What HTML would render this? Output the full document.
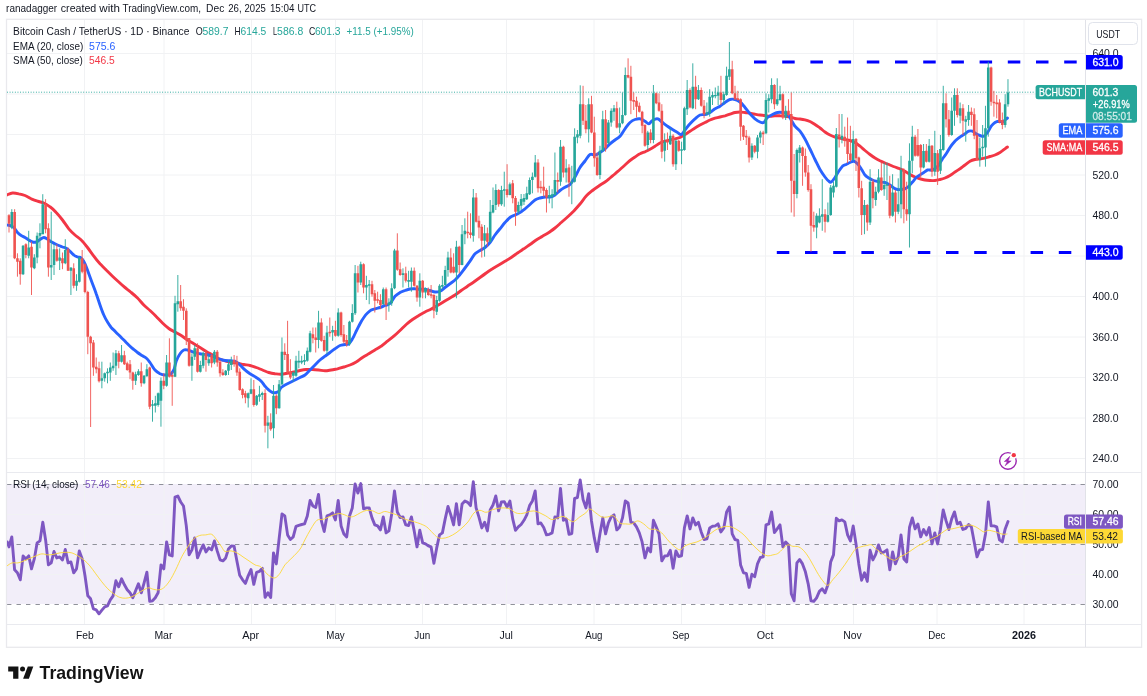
<!DOCTYPE html>
<html lang="en">
<head>
<meta charset="utf-8">
<title>BCHUSDT chart</title>
<style>
html,body{margin:0;padding:0;background:#fff;}
body{width:1147px;height:696px;overflow:hidden;}
svg{display:block;}
text{font-family:"Liberation Sans",sans-serif;}
.ax{font-size:11px;}
.lg{font-size:11px;}
.w{fill:#fff;}
</style>
</head>
<body>
<svg width="1147" height="696" viewBox="0 0 1147 696">
<defs><clipPath id="cp"><rect x="7" y="20" width="1078" height="604"/></clipPath></defs>
<rect width="1147" height="696" fill="#fff"/>
<!-- header -->

<!-- RSI band -->
<rect x="7" y="484" width="1078" height="120" fill="#7e57c2" fill-opacity="0.1"/>

<!-- grid -->
<g stroke="#f1f2f4" stroke-width="1" fill="none">
<path d="M7 53.5H1085M7 94H1085M7 134.5H1085M7 175H1085M7 215.5H1085M7 256H1085M7 296.5H1085M7 337H1085M7 377.5H1085M7 418H1085M7 458.5H1085"/>
<path d="M7 514.5H1085M7 574.5H1085"/>
<path d="M84.5 20V624M164 20V624M251.5 20V624M335.5 20V624M422.5 20V624M506.5 20V624M594 20V624M681.5 20V624M765.5 20V624M853.5 20V624M937 20V624M1024 20V624"/>
</g>
<!-- RSI dashed levels -->
<path d="M7 484.5H1085M7 544.5H1085M7 604.5H1085" stroke="#83868f" stroke-width="0.9" stroke-dasharray="4.4 5.1" fill="none"/>

<!-- frame -->
<rect x="6.5" y="19.3" width="1135.1" height="628" fill="none" stroke="#e9e9ed" stroke-width="1.3"/>
<path d="M7 472.5H1141.5M7 624.5H1141.5" stroke="#e9eaef" stroke-width="1" fill="none"/>
<path d="M1085.5 20V647" stroke="#e1e2e8" stroke-width="1" fill="none"/>

<!-- price dotted line -->
<path d="M7 92.2H1035" stroke="#26a69a" stroke-width="1" stroke-dasharray="0.9 1.73" fill="none"/>

<!-- horizontal levels -->
<path d="M754 62H1080" stroke="#0000ff" stroke-width="3" stroke-dasharray="12.5 15.7" fill="none"/>
<path d="M776.8 252.5H1080" stroke="#0000ff" stroke-width="3" stroke-dasharray="12.5 15.7" fill="none"/>

<!-- MAs -->
<path clip-path="url(#cp)" d="M6.8 195.0C7.7 194.7 10.5 193.2 12.5 193.0C14.5 192.8 16.7 193.3 18.8 193.8C20.8 194.2 22.9 194.7 25.0 195.5C27.1 196.3 29.2 197.8 31.2 198.8C33.3 199.7 35.4 200.5 37.5 201.2C39.6 202.0 41.7 202.1 43.8 203.0C45.8 203.9 47.9 205.2 50.0 206.8C52.1 208.3 54.2 210.3 56.2 212.5C58.3 214.7 60.4 217.3 62.5 220.0C64.6 222.7 66.7 226.2 68.8 228.8C70.8 231.2 72.9 233.1 75.0 235.0C77.1 236.9 79.2 237.9 81.2 240.0C83.3 242.1 85.4 244.8 87.5 247.5C89.6 250.2 91.7 253.5 93.8 256.2C95.8 259.0 97.9 261.5 100.0 263.8C102.1 266.0 104.2 267.9 106.2 270.0C108.3 272.1 110.4 274.2 112.5 276.2C114.6 278.2 116.7 280.1 118.8 282.0C120.8 283.9 122.9 285.8 125.0 287.5C127.1 289.2 129.2 290.8 131.2 292.5C133.3 294.2 135.4 295.9 137.5 298.0C139.6 300.1 141.7 302.9 143.8 305.0C145.8 307.1 147.9 308.6 150.0 310.5C152.1 312.4 154.2 314.4 156.2 316.5C158.3 318.6 160.4 321.0 162.5 323.0C164.6 325.0 166.7 327.0 168.8 328.5C170.8 330.0 172.9 330.8 175.0 332.0C177.1 333.2 179.2 334.2 181.2 335.5C183.3 336.8 185.4 338.6 187.5 340.0C189.6 341.4 191.7 342.5 193.8 343.8C195.8 345.0 197.9 346.2 200.0 347.5C202.1 348.8 204.2 350.2 206.2 351.5C208.3 352.8 210.4 353.8 212.5 355.0C214.6 356.2 216.7 357.8 218.8 358.8C220.8 359.7 222.9 360.1 225.0 360.8C227.1 361.4 229.2 362.1 231.2 362.5C233.3 362.9 235.4 362.9 237.5 363.2C239.6 363.6 241.7 364.1 243.8 364.5C245.8 364.9 247.9 365.0 250.0 365.5C252.1 366.0 254.2 366.8 256.2 367.5C258.3 368.2 260.4 369.2 262.5 370.0C264.6 370.8 266.7 371.9 268.8 372.5C270.8 373.1 272.9 373.5 275.0 373.8C277.1 374.0 279.2 374.3 281.2 374.2C283.3 374.2 285.4 373.6 287.5 373.2C289.6 372.9 291.7 372.5 293.8 372.0C295.8 371.5 297.9 370.9 300.0 370.5C302.1 370.1 304.2 369.7 306.2 369.5C308.3 369.3 310.4 369.4 312.5 369.5C314.6 369.6 316.7 369.8 318.8 370.0C320.8 370.2 322.9 370.8 325.0 370.8C327.1 370.8 329.2 370.3 331.2 370.0C333.3 369.7 335.4 369.2 337.5 368.8C339.6 368.2 341.7 367.6 343.8 367.0C345.8 366.4 347.9 365.8 350.0 365.0C352.1 364.2 354.2 363.2 356.2 362.0C358.3 360.8 360.4 358.9 362.5 357.5C364.6 356.1 366.7 355.0 368.8 353.8C370.8 352.5 372.9 351.2 375.0 350.0C377.1 348.8 379.2 347.7 381.2 346.2C383.3 344.8 385.4 342.9 387.5 341.2C389.6 339.6 391.7 338.0 393.8 336.2C395.8 334.5 397.9 332.5 400.0 330.5C402.1 328.5 404.2 326.3 406.2 324.5C408.3 322.7 410.4 321.0 412.5 319.5C414.6 318.0 416.7 316.8 418.8 315.5C420.8 314.2 422.9 313.1 425.0 312.0C427.1 310.9 429.4 310.0 431.2 309.0C433.1 308.0 434.4 307.3 436.2 306.2C438.1 305.2 440.4 303.8 442.5 302.5C444.6 301.2 446.7 300.0 448.8 298.8C450.8 297.5 452.9 296.4 455.0 295.0C457.1 293.6 459.2 292.0 461.2 290.5C463.3 289.0 465.4 287.7 467.5 286.2C469.6 284.8 471.7 283.5 473.8 282.0C475.8 280.5 477.9 279.0 480.0 277.5C482.1 276.0 484.2 274.5 486.2 273.0C488.3 271.5 490.4 270.1 492.5 268.8C494.6 267.4 496.7 266.2 498.8 265.0C500.8 263.8 502.9 262.5 505.0 261.2C507.1 260.0 509.2 258.9 511.2 257.5C513.3 256.1 515.4 254.5 517.5 253.0C519.6 251.5 521.7 250.2 523.8 248.8C525.8 247.3 527.9 246.0 530.0 244.5C532.1 243.0 534.2 241.4 536.2 240.0C538.3 238.6 540.4 237.5 542.5 236.2C544.6 235.0 546.7 233.9 548.8 232.5C550.8 231.1 552.9 229.7 555.0 228.0C557.1 226.3 559.2 224.3 561.2 222.5C563.3 220.7 565.4 218.9 567.5 217.0C569.6 215.1 571.7 213.2 573.8 211.0C575.8 208.8 577.9 206.5 580.0 204.0C582.1 201.5 584.2 198.2 586.2 196.0C588.3 193.8 590.4 192.2 592.5 190.5C594.6 188.8 596.7 187.4 598.8 186.0C600.8 184.6 603.1 183.3 605.0 182.0C606.9 180.7 608.3 179.4 610.0 178.0C611.7 176.6 613.3 175.2 615.0 173.8C616.7 172.3 618.3 171.0 620.0 169.5C621.7 168.0 623.3 166.5 625.0 165.0C626.7 163.5 628.3 161.8 630.0 160.5C631.7 159.2 633.3 158.1 635.0 157.0C636.7 155.9 638.3 154.6 640.0 153.8C641.7 152.9 643.3 152.5 645.0 151.8C646.7 151.0 648.3 150.2 650.0 149.2C651.7 148.3 653.3 147.3 655.0 146.2C656.7 145.2 658.3 143.8 660.0 143.0C661.7 142.2 663.3 141.8 665.0 141.2C666.7 140.8 668.3 140.4 670.0 140.0C671.7 139.6 673.3 139.2 675.0 138.8C676.7 138.3 678.3 138.2 680.0 137.5C681.7 136.8 683.3 135.5 685.0 134.5C686.7 133.5 688.3 132.3 690.0 131.2C691.7 130.2 693.3 129.0 695.0 128.0C696.7 127.0 698.3 125.9 700.0 125.0C701.7 124.1 703.3 123.3 705.0 122.5C706.7 121.7 708.3 120.7 710.0 120.0C711.7 119.3 713.3 118.8 715.0 118.2C716.7 117.8 718.3 117.4 720.0 117.0C721.7 116.6 723.3 116.2 725.0 115.8C726.7 115.3 728.3 114.8 730.0 114.2C731.7 113.7 733.3 112.9 735.0 112.5C736.7 112.1 738.3 112.0 740.0 112.0C741.7 112.0 743.3 112.3 745.0 112.5C746.7 112.7 748.3 113.0 750.0 113.2C751.7 113.5 753.3 114.0 755.0 114.2C756.7 114.5 758.3 114.8 760.0 115.0C761.7 115.2 763.3 115.3 765.0 115.5C766.7 115.7 768.3 116.2 770.0 116.2C771.7 116.3 773.3 115.8 775.0 115.8C776.7 115.7 778.3 115.7 780.0 115.8C781.7 115.8 783.3 116.0 785.0 116.2C786.7 116.5 788.3 116.6 790.0 117.0C791.7 117.4 793.3 118.2 795.0 118.5C796.7 118.8 798.3 118.8 800.0 119.0C801.7 119.2 803.3 119.4 805.0 119.8C806.7 120.2 808.3 120.7 810.0 121.5C811.7 122.3 813.3 123.4 815.0 124.5C816.7 125.6 818.3 126.8 820.0 128.0C821.7 129.2 823.3 130.8 825.0 132.0C826.7 133.2 828.3 134.2 830.0 135.0C831.7 135.8 833.3 136.5 835.0 137.0C836.7 137.5 838.3 137.8 840.0 138.2C841.7 138.7 843.3 139.1 845.0 139.5C846.7 139.9 848.3 140.0 850.0 140.5C851.7 141.0 853.3 141.5 855.0 142.5C856.7 143.5 858.3 144.9 860.0 146.2C861.7 147.6 863.3 149.1 865.0 150.5C866.7 151.9 868.3 153.2 870.0 154.5C871.7 155.8 873.3 157.0 875.0 158.0C876.7 159.0 878.3 159.9 880.0 160.8C881.7 161.6 883.3 162.3 885.0 163.0C886.7 163.7 888.3 164.3 890.0 165.0C891.7 165.7 893.3 166.4 895.0 167.0C896.7 167.6 898.3 168.0 900.0 168.8C901.7 169.5 903.3 170.3 905.0 171.2C906.7 172.2 908.3 173.5 910.0 174.5C911.7 175.5 913.3 176.3 915.0 177.0C916.7 177.7 918.3 178.2 920.0 178.8C921.7 179.2 923.3 179.7 925.0 180.0C926.7 180.3 928.3 180.4 930.0 180.5C931.7 180.6 933.3 180.7 935.0 180.5C936.7 180.3 938.3 179.9 940.0 179.5C941.7 179.1 943.3 178.7 945.0 178.0C946.7 177.3 948.3 176.5 950.0 175.5C951.7 174.5 953.3 173.1 955.0 172.0C956.7 170.9 958.3 169.9 960.0 168.8C961.7 167.6 963.3 166.2 965.0 165.0C966.7 163.8 968.3 162.2 970.0 161.2C971.7 160.3 973.3 159.9 975.0 159.5C976.7 159.1 978.3 159.2 980.0 159.0C981.7 158.8 983.3 158.4 985.0 158.0C986.7 157.6 988.3 157.0 990.0 156.5C991.7 156.0 993.3 155.7 995.0 155.0C996.7 154.3 998.3 153.5 1000.0 152.5C1001.7 151.5 1003.8 149.7 1005.0 148.8C1006.2 147.8 1007.1 147.3 1007.5 147.0" stroke="#f23645" stroke-width="2.9" fill="none" stroke-linejoin="round" stroke-linecap="round"/>
<path clip-path="url(#cp)" d="M6.8 225.0C7.3 225.1 8.8 225.1 10.0 225.5C11.2 225.9 12.5 226.3 13.8 227.5C15.0 228.7 16.2 231.2 17.5 232.5C18.8 233.8 20.0 234.7 21.2 235.5C22.5 236.3 23.8 236.8 25.0 237.5C26.2 238.2 27.5 239.2 28.8 240.0C30.0 240.8 31.2 241.7 32.5 242.0C33.8 242.3 35.0 242.4 36.2 242.0C37.5 241.6 38.8 240.2 40.0 239.5C41.2 238.8 42.5 237.5 43.8 237.5C45.0 237.5 46.2 238.5 47.5 239.2C48.8 240.0 50.0 241.0 51.2 241.8C52.5 242.5 53.8 243.1 55.0 243.8C56.2 244.4 57.5 245.0 58.8 245.5C60.0 246.0 61.2 246.5 62.5 247.0C63.8 247.5 65.0 247.5 66.2 248.2C67.5 249.0 68.8 250.1 70.0 251.2C71.2 252.4 72.5 254.0 73.8 255.0C75.0 256.0 76.2 256.5 77.5 257.0C78.8 257.5 80.0 256.9 81.2 258.0C82.5 259.1 83.8 261.1 85.0 263.8C86.2 266.4 87.5 270.4 88.8 273.8C90.0 277.1 91.2 280.4 92.5 283.8C93.8 287.1 95.0 290.2 96.2 293.8C97.5 297.3 98.8 301.5 100.0 305.0C101.2 308.5 102.5 312.2 103.8 315.0C105.0 317.8 106.2 319.9 107.5 322.0C108.8 324.1 110.0 326.0 111.2 327.5C112.5 329.0 113.8 330.0 115.0 331.2C116.2 332.5 117.5 333.8 118.8 335.0C120.0 336.2 121.2 337.5 122.5 338.8C123.8 340.0 125.0 341.2 126.2 342.5C127.5 343.8 128.8 345.1 130.0 346.2C131.2 347.4 132.5 348.5 133.8 349.5C135.0 350.5 136.0 351.4 137.5 352.5C139.0 353.6 141.0 354.8 142.5 355.8C144.0 356.8 145.4 357.4 146.7 358.5C147.9 359.6 148.6 360.6 150.0 362.5C151.4 364.4 153.3 368.1 155.0 370.0C156.7 371.9 158.3 372.9 160.0 373.8C161.7 374.6 163.3 374.9 165.0 375.0C166.7 375.1 168.5 375.3 170.0 374.5C171.5 373.7 172.7 372.2 173.8 370.0C174.8 367.8 175.2 364.0 176.2 361.2C177.3 358.5 178.8 355.6 180.0 353.8C181.2 351.9 182.5 350.6 183.8 350.0C185.0 349.4 186.2 349.8 187.5 350.0C188.8 350.2 190.0 350.8 191.2 351.2C192.5 351.7 193.5 352.1 195.0 352.5C196.5 352.9 198.1 353.4 200.0 353.8C201.9 354.1 204.2 354.1 206.2 354.5C208.3 354.9 210.4 355.5 212.5 356.2C214.6 357.0 216.7 358.0 218.8 358.8C220.8 359.5 222.9 360.2 225.0 360.5C227.1 360.8 229.6 360.6 231.2 360.8C232.9 360.9 233.8 360.8 235.0 361.2C236.2 361.8 237.3 362.5 238.8 363.8C240.2 365.0 241.9 367.1 243.8 368.8C245.6 370.4 247.9 372.3 250.0 373.8C252.1 375.2 254.4 376.2 256.2 377.5C258.1 378.8 259.8 379.8 261.2 381.2C262.7 382.7 263.8 384.8 265.0 386.2C266.2 387.7 267.5 389.0 268.8 390.0C270.0 391.0 271.2 392.1 272.5 392.5C273.8 392.9 275.2 392.7 276.2 392.5C277.3 392.3 277.9 392.1 278.8 391.2C279.6 390.4 280.2 388.5 281.2 387.5C282.3 386.5 283.5 385.8 285.0 385.0C286.5 384.2 288.3 383.3 290.0 382.5C291.7 381.7 293.3 380.8 295.0 380.0C296.7 379.2 298.3 378.3 300.0 377.5C301.7 376.7 303.3 376.2 305.0 375.0C306.7 373.8 308.3 371.7 310.0 370.0C311.7 368.3 313.3 366.7 315.0 365.0C316.7 363.3 318.3 361.5 320.0 360.0C321.7 358.5 323.3 357.5 325.0 356.2C326.7 355.0 328.3 353.8 330.0 352.5C331.7 351.2 333.3 349.9 335.0 348.8C336.7 347.6 338.3 346.2 340.0 345.5C341.7 344.8 343.5 344.8 345.0 344.5C346.5 344.2 347.5 344.7 348.8 343.8C350.0 342.8 351.2 340.8 352.5 338.8C353.8 336.7 355.0 333.8 356.2 331.2C357.5 328.8 358.8 326.0 360.0 323.8C361.2 321.5 362.5 319.3 363.8 317.5C365.0 315.7 366.2 314.2 367.5 313.0C368.8 311.8 370.0 310.7 371.2 310.0C372.5 309.3 373.5 309.2 375.0 308.8C376.5 308.3 378.3 308.0 380.0 307.5C381.7 307.0 383.3 306.2 385.0 305.5C386.7 304.8 388.3 305.0 390.0 303.5C391.7 302.0 393.3 298.1 395.0 296.2C396.7 294.4 398.3 293.5 400.0 292.5C401.7 291.5 403.3 291.1 405.0 290.5C406.7 289.9 408.3 289.3 410.0 289.0C411.7 288.7 413.3 288.7 415.0 288.8C416.7 288.8 418.3 289.2 420.0 289.2C421.7 289.3 423.3 289.0 425.0 289.2C426.7 289.5 428.3 290.0 430.0 290.5C431.7 291.0 433.3 291.9 435.0 292.0C436.7 292.1 438.3 292.0 440.0 291.2C441.7 290.5 443.3 288.8 445.0 287.5C446.7 286.2 448.3 285.0 450.0 283.8C451.7 282.5 453.3 281.5 455.0 280.0C456.7 278.5 458.3 276.5 460.0 274.5C461.7 272.5 463.3 270.2 465.0 268.0C466.7 265.8 468.3 263.6 470.0 261.2C471.7 258.9 473.3 255.5 475.0 253.8C476.7 252.0 478.3 251.5 480.0 250.5C481.7 249.5 483.3 248.8 485.0 247.5C486.7 246.2 488.3 244.6 490.0 242.5C491.7 240.4 493.3 237.3 495.0 235.0C496.7 232.7 498.3 230.8 500.0 228.8C501.7 226.7 503.3 224.4 505.0 222.5C506.7 220.6 508.3 218.8 510.0 217.5C511.7 216.2 513.3 215.8 515.0 215.0C516.7 214.2 518.3 213.5 520.0 212.5C521.7 211.5 523.3 210.1 525.0 208.8C526.7 207.4 528.3 206.0 530.0 204.5C531.7 203.0 533.3 201.1 535.0 200.0C536.7 198.9 538.3 198.5 540.0 198.0C541.7 197.5 543.3 197.2 545.0 197.0C546.7 196.8 548.3 197.3 550.0 197.0C551.7 196.7 553.3 196.1 555.0 195.0C556.7 193.9 558.3 191.8 560.0 190.5C561.7 189.2 563.3 188.3 565.0 187.3C566.7 186.3 568.3 186.2 570.0 184.5C571.7 182.8 573.3 179.8 575.0 177.0C576.7 174.2 578.3 170.2 580.0 167.5C581.7 164.8 583.3 163.2 585.0 161.0C586.7 158.8 588.3 155.5 590.0 154.5C591.7 153.5 593.3 155.3 595.0 155.0C596.7 154.7 598.3 153.5 600.0 152.5C601.7 151.5 603.3 150.2 605.0 148.8C606.7 147.3 608.3 145.2 610.0 143.8C611.7 142.3 613.3 141.2 615.0 140.0C616.7 138.8 618.3 138.1 620.0 136.2C621.7 134.4 623.3 131.0 625.0 128.8C626.7 126.5 628.3 124.0 630.0 122.5C631.7 121.0 633.3 120.1 635.0 119.5C636.7 118.9 638.3 118.5 640.0 118.8C641.7 119.0 643.5 120.4 645.0 121.2C646.5 122.1 647.5 123.9 648.8 123.8C650.0 123.6 651.0 121.3 652.5 120.5C654.0 119.7 655.8 118.4 657.5 118.8C659.2 119.1 660.8 121.2 662.5 122.5C664.2 123.8 665.8 125.1 667.5 126.2C669.2 127.4 670.8 128.5 672.5 129.5C674.2 130.5 676.0 131.7 677.5 132.5C679.0 133.3 680.0 134.9 681.2 134.5C682.5 134.1 683.5 131.8 685.0 130.0C686.5 128.2 688.3 125.6 690.0 123.8C691.7 121.9 693.3 120.2 695.0 118.8C696.7 117.3 698.3 115.7 700.0 115.0C701.7 114.3 703.3 114.9 705.0 114.5C706.7 114.1 708.3 113.5 710.0 112.5C711.7 111.5 713.3 109.8 715.0 108.8C716.7 107.7 718.3 107.3 720.0 106.2C721.7 105.2 723.3 103.6 725.0 102.5C726.7 101.4 728.3 100.0 730.0 99.5C731.7 99.0 733.3 99.1 735.0 99.5C736.7 99.9 738.3 100.7 740.0 102.0C741.7 103.3 743.3 105.5 745.0 107.5C746.7 109.5 748.3 111.9 750.0 113.8C751.7 115.6 753.3 117.4 755.0 118.8C756.7 120.1 758.5 121.4 760.0 122.0C761.5 122.6 762.5 123.2 763.8 122.5C765.0 121.8 766.0 118.8 767.5 117.5C769.0 116.2 770.8 115.3 772.5 114.5C774.2 113.7 775.8 112.8 777.5 112.5C779.2 112.2 780.8 112.3 782.5 112.5C784.2 112.7 786.0 112.5 787.5 113.8C789.0 115.0 790.0 117.9 791.2 120.0C792.5 122.1 793.5 124.4 795.0 126.2C796.5 128.1 798.3 129.1 800.0 131.2C801.7 133.4 803.3 136.0 805.0 139.0C806.7 142.0 808.3 145.6 810.0 149.0C811.7 152.4 813.3 156.1 815.0 159.5C816.7 162.9 818.3 166.6 820.0 169.5C821.7 172.4 823.5 175.0 825.0 177.0C826.5 179.0 827.7 180.4 828.8 181.2C829.8 182.1 830.2 182.6 831.2 182.0C832.3 181.4 833.8 179.3 835.0 177.5C836.2 175.7 837.5 173.1 838.8 171.2C840.0 169.4 841.2 167.4 842.5 166.2C843.8 165.1 845.0 165.1 846.2 164.5C847.5 163.9 848.8 163.0 850.0 162.5C851.2 162.0 852.5 161.0 853.8 161.2C855.0 161.5 856.2 162.5 857.5 163.8C858.8 165.0 860.0 166.9 861.2 168.8C862.5 170.6 863.8 173.5 865.0 175.0C866.2 176.5 867.5 177.2 868.8 178.0C870.0 178.8 871.2 179.5 872.5 180.0C873.8 180.5 875.0 180.9 876.2 181.2C877.5 181.6 878.5 181.8 880.0 182.0C881.5 182.2 883.3 182.0 885.0 182.5C886.7 183.0 888.5 184.1 890.0 185.0C891.5 185.9 892.5 187.2 893.8 188.0C895.0 188.8 896.2 189.2 897.5 189.5C898.8 189.8 900.0 189.6 901.2 189.5C902.5 189.4 903.8 189.3 905.0 188.8C906.2 188.2 907.5 187.4 908.8 186.2C910.0 185.1 911.2 183.5 912.5 182.0C913.8 180.5 915.0 178.7 916.2 177.5C917.5 176.3 918.8 175.8 920.0 175.0C921.2 174.2 922.5 173.3 923.8 172.5C925.0 171.7 926.2 170.4 927.5 170.0C928.8 169.6 930.0 170.2 931.2 170.0C932.5 169.8 933.8 169.6 935.0 168.8C936.2 167.9 937.5 166.7 938.8 165.0C940.0 163.3 941.2 160.6 942.5 158.8C943.8 156.9 945.0 155.6 946.2 153.8C947.5 151.9 948.8 149.4 950.0 147.5C951.2 145.6 952.5 144.0 953.8 142.5C955.0 141.0 956.2 139.8 957.5 138.8C958.8 137.7 960.0 137.1 961.2 136.2C962.5 135.4 963.8 134.6 965.0 133.8C966.2 132.9 967.5 131.7 968.8 131.2C970.0 130.8 971.2 130.8 972.5 131.2C973.8 131.7 975.0 133.0 976.2 133.8C977.5 134.5 978.8 135.1 980.0 135.5C981.2 135.9 982.5 136.8 983.8 136.2C985.0 135.8 986.2 134.2 987.5 132.5C988.8 130.8 990.0 127.9 991.2 126.2C992.5 124.6 993.8 123.3 995.0 122.5C996.2 121.7 997.5 121.3 998.8 121.2C1000.0 121.2 1001.5 122.2 1002.5 122.0C1003.5 121.8 1004.2 120.7 1005.0 120.0C1005.8 119.3 1007.1 118.3 1007.5 118.0" stroke="#2962ff" stroke-width="2.9" fill="none" stroke-linejoin="round" stroke-linecap="round"/>

<!-- candles -->
<g clip-path="url(#cp)">
<path d="M11.81 209.2V229.2M23.07 245.0V275.0M28.70 230.8V258.3M34.33 254.2V269.2M37.14 232.5V263.3M39.95 223.3V248.3M42.77 194.2V234.2M51.21 211.7V280.0M54.02 244.2V275.0M59.65 248.3V270.0M65.28 239.2V264.2M70.91 267.5V295.0M76.54 274.2V290.8M79.35 256.7V282.5M101.86 361.7V388.3M104.68 372.5V381.7M107.49 368.3V383.3M110.30 362.5V380.8M113.12 352.5V370.8M115.93 350.0V375.0M121.56 345.0V362.5M135.63 371.7V385.0M138.44 369.2V375.8M144.07 375.0V384.2M146.89 364.2V376.7M152.51 400.0V421.7M155.33 395.8V412.5M158.14 392.5V406.7M160.96 377.5V426.7M166.58 355.0V386.7M175.03 295.8V377.0M177.84 275.0V311.7M191.91 353.3V380.8M194.72 345.0V360.0M200.35 360.8V372.5M203.17 351.7V368.3M208.79 354.2V365.8M214.42 350.0V364.2M225.68 370.0V375.8M228.49 360.0V375.0M231.31 356.7V370.0M248.19 392.5V407.5M251.00 378.3V394.2M256.63 395.0V405.8M259.45 385.8V401.7M262.26 391.7V400.0M267.89 415.8V448.3M273.52 385.0V438.3M279.14 380.0V408.7M281.96 337.5V385.0M293.21 371.7V381.7M296.03 355.8V376.7M298.84 350.8V368.3M301.66 355.8V364.2M304.47 354.2V365.0M307.28 347.5V361.7M310.10 330.8V352.5M318.54 310.8V348.3M326.98 325.8V354.2M332.61 325.8V340.8M338.24 308.3V336.7M349.49 320.8V345.8M352.31 304.2V322.5M355.12 265.0V315.0M360.75 261.7V285.0M366.38 275.8V300.0M369.19 280.0V304.2M383.26 287.5V305.0M388.89 298.3V311.7M391.70 283.3V305.8M394.52 248.8V289.2M402.96 268.3V287.5M408.59 270.8V287.5M411.40 267.5V291.7M419.84 273.3V306.7M425.47 287.5V298.3M436.73 295.8V315.0M439.54 284.2V301.7M442.36 275.8V289.2M445.17 265.8V285.8M447.98 251.7V276.7M456.43 240.8V298.3M462.05 225.0V265.3M464.87 218.3V244.2M473.31 189.0V241.7M484.57 225.0V256.7M490.19 200.0V242.5M493.01 187.5V213.3M495.82 184.2V210.0M501.45 185.8V205.8M504.26 171.7V206.7M509.89 182.5V195.3M518.33 201.7V214.0M521.15 194.0V210.0M523.96 194.0V205.0M526.78 186.7V200.0M529.59 177.5V195.0M532.40 172.5V193.3M535.22 155.0V177.5M549.29 185.8V203.3M552.10 189.2V208.3M554.92 152.5V195.8M560.54 140.0V185.8M566.17 159.2V182.5M571.80 165.8V204.2M574.61 128.3V182.5M577.43 130.0V143.3M580.24 85.3V138.3M588.68 98.3V142.5M599.94 145.8V179.2M602.75 110.8V151.7M608.38 120.0V144.2M611.20 108.3V126.7M614.01 105.0V120.8M619.64 107.5V133.3M622.45 92.5V124.2M625.27 67.5V115.8M647.78 130.8V150.0M653.41 85.0V143.3M664.66 133.3V161.7M670.29 128.3V145.0M675.92 139.2V170.0M681.55 141.7V164.2M684.36 106.7V150.8M687.17 80.0V115.0M692.80 63.3V109.2M698.43 85.0V100.0M706.87 102.5V115.8M709.69 89.2V116.7M712.50 91.7V105.0M715.31 87.5V98.3M718.13 85.8V105.0M723.76 91.7V104.2M726.57 66.7V95.8M729.38 42.0V80.0M751.90 143.3V160.0M757.52 135.0V158.3M760.34 130.8V143.3M765.97 93.3V134.2M768.78 94.2V112.5M771.59 78.3V103.3M777.22 78.3V105.8M780.04 85.8V100.8M785.66 105.8V120.0M796.92 148.5V198.3M799.73 145.0V162.5M816.62 213.3V238.3M819.43 208.3V223.3M822.25 179.2V230.8M827.87 202.5V222.5M830.69 185.0V215.8M833.50 181.7V197.5M836.32 128.0V187.5M841.94 114.0V143.3M853.20 130.8V160.8M864.46 200.0V234.2M870.08 169.2V225.0M875.71 186.7V205.8M878.53 169.2V193.3M884.15 162.5V195.8M886.97 162.5V200.0M892.60 174.2V216.7M898.22 178.3V214.2M901.04 155.8V218.3M909.48 143.3V247.5M912.29 125.8V173.3M923.55 144.0V168.3M929.18 139.0V162.5M934.81 130.8V175.8M940.43 135.0V174.0M943.25 85.8V150.8M951.69 97.5V135.8M954.50 88.3V125.8M960.13 102.5V123.3M965.76 115.8V141.7M968.57 105.0V125.8M979.83 137.5V166.7M982.64 125.0V156.7M985.46 105.8V166.7M988.27 61.7V136.7M1005.16 94.2V127.5M1007.97 79.2V106.7" stroke="#26a69a" stroke-width="0.9" fill="none"/>
<path d="M9.00 214.2V232.5M14.63 209.2V259.2M17.44 253.3V276.7M20.26 258.3V284.7M25.88 243.3V258.3M31.51 241.7V295.0M45.58 199.2V233.3M48.40 223.3V276.7M56.84 244.2V261.7M62.47 252.5V269.2M68.09 247.5V270.8M73.72 263.3V288.3M82.16 250.0V273.3M84.98 263.3V293.3M87.79 290.8V354.2M90.61 335.8V427.0M93.42 340.0V375.8M96.23 357.5V373.3M99.05 361.7V382.5M118.75 350.8V368.3M124.37 350.8V365.0M127.19 361.7V370.8M130.00 360.0V379.2M132.82 371.7V389.7M141.26 362.5V386.7M149.70 366.7V409.2M163.77 373.3V389.2M169.40 338.3V377.5M172.21 371.7V405.8M180.65 285.0V310.8M183.47 299.2V320.0M186.28 308.3V345.0M189.10 338.0V366.7M197.54 343.3V372.5M205.98 350.0V371.7M211.61 353.3V367.5M217.24 350.0V366.7M220.05 360.0V376.7M222.86 369.2V375.8M234.12 355.0V366.7M236.93 355.8V375.8M239.75 368.3V390.8M242.56 388.3V398.3M245.38 390.8V403.3M253.82 380.0V406.7M265.07 389.2V432.5M270.70 413.3V430.8M276.33 394.2V414.2M284.77 343.3V360.0M287.59 320.8V373.3M290.40 359.2V379.2M312.91 327.5V343.3M315.73 327.5V352.5M321.35 318.3V341.7M324.17 335.8V351.7M329.80 317.5V336.7M335.42 320.8V336.7M341.05 311.7V336.7M343.87 325.0V343.3M346.68 335.0V346.7M357.94 265.8V292.5M363.56 263.3V293.3M372.01 280.8V296.7M374.82 290.0V312.5M377.63 291.7V303.3M380.45 294.2V309.2M386.08 287.5V320.0M397.33 233.3V270.8M400.15 262.5V275.8M405.77 266.7V282.5M414.22 267.5V286.7M417.03 285.0V301.7M422.66 280.0V298.3M428.29 287.5V295.8M431.10 285.0V298.3M433.91 294.2V318.3M450.80 248.3V273.3M453.61 253.3V273.3M459.24 245.8V273.3M467.68 211.7V238.3M470.50 213.3V238.3M476.12 193.0V222.5M478.94 215.8V238.3M481.75 224.2V257.5M487.38 227.5V246.7M498.64 189.2V206.7M507.08 164.2V197.5M512.71 180.0V203.3M515.52 196.0V225.8M538.03 159.2V192.5M540.85 180.8V193.3M543.66 166.7V196.7M546.47 188.3V212.5M557.73 172.5V192.5M563.36 145.8V177.5M568.99 164.2V196.7M583.06 85.8V125.0M585.87 105.0V133.3M591.50 95.8V133.3M594.31 116.7V166.7M597.13 152.5V175.8M605.57 110.0V151.7M616.82 101.7V128.3M628.08 58.3V78.3M630.89 65.8V114.2M633.71 92.5V110.0M636.52 96.7V117.5M639.34 102.5V112.5M642.15 110.8V133.3M644.96 124.2V146.7M650.59 129.2V143.3M656.22 92.5V104.2M659.03 93.3V111.7M661.85 104.2V158.3M667.48 132.5V150.0M673.10 134.2V166.7M678.73 140.0V151.7M689.99 88.3V108.3M695.62 75.8V109.2M701.24 87.5V106.7M704.06 100.0V118.3M720.94 75.8V105.0M732.20 60.8V94.2M735.01 85.8V100.0M737.83 90.8V100.8M740.64 98.3V140.8M743.45 125.0V140.0M746.27 130.0V145.0M749.08 135.8V162.5M754.71 145.0V153.3M763.15 130.8V145.0M774.41 84.2V109.2M782.85 93.3V119.2M788.48 99.2V115.8M791.29 92.5V212.5M794.11 154.0V216.7M802.55 146.5V185.8M805.36 148.5V176.7M808.18 165.0V191.7M810.99 184.2V251.7M813.80 211.7V231.7M825.06 209.2V232.5M839.13 114.0V147.5M844.76 126.7V146.7M847.57 117.5V163.3M850.39 125.8V161.7M856.01 138.0V171.0M858.83 156.7V197.5M861.64 180.8V235.0M867.27 204.2V230.8M872.90 179.2V208.3M881.34 162.5V190.8M889.78 175.8V218.3M895.41 190.0V222.5M903.85 168.3V223.3M906.67 181.7V220.8M915.11 135.0V156.7M917.92 129.0V156.7M920.74 144.0V178.3M926.36 144.0V162.5M931.99 145.0V176.7M937.62 150.0V185.0M946.06 93.3V127.5M948.88 110.0V136.7M957.32 88.3V117.5M962.95 104.2V135.0M971.39 107.5V125.8M974.20 108.3V139.2M977.02 120.0V160.8M991.09 66.7V105.8M993.90 90.8V116.7M996.71 95.0V118.3M999.53 99.2V123.3M1002.34 112.5V129.2" stroke="#ef5350" stroke-width="0.9" fill="none"/>
<path d="M10.51 212.0h2.6V227.5h-2.6zM21.77 245.8h2.6V274.2h-2.6zM27.40 247.5h2.6V255.8h-2.6zM33.03 257.5h2.6V268.3h-2.6zM35.84 235.8h2.6V257.5h-2.6zM38.65 233.0h2.6V235.8h-2.6zM41.47 204.2h2.6V234.2h-2.6zM49.91 265.0h2.6V267.5h-2.6zM52.72 249.2h2.6V265.0h-2.6zM58.35 257.5h2.6V260.8h-2.6zM63.98 250.0h2.6V263.3h-2.6zM69.61 267.5h2.6V270.8h-2.6zM75.24 280.8h2.6V285.8h-2.6zM78.05 257.5h2.6V281.7h-2.6zM100.56 378.3h2.6V380.8h-2.6zM103.38 373.3h2.6V378.3h-2.6zM106.19 371.7h2.6V373.3h-2.6zM109.00 367.5h2.6V372.5h-2.6zM111.82 365.8h2.6V368.3h-2.6zM114.63 353.3h2.6V365.8h-2.6zM120.26 355.3h2.6V361.7h-2.6zM134.33 374.2h2.6V380.8h-2.6zM137.14 371.2h2.6V375.0h-2.6zM142.77 375.8h2.6V383.3h-2.6zM145.59 369.2h2.6V376.3h-2.6zM151.21 404.2h2.6V405.8h-2.6zM154.03 403.3h2.6V405.8h-2.6zM156.84 393.3h2.6V405.0h-2.6zM159.66 380.8h2.6V400.8h-2.6zM165.28 362.5h2.6V385.8h-2.6zM173.73 303.3h2.6V376.7h-2.6zM176.54 301.3h2.6V304.2h-2.6zM190.61 356.7h2.6V365.8h-2.6zM193.42 348.3h2.6V356.7h-2.6zM199.05 365.0h2.6V371.7h-2.6zM201.87 353.3h2.6V365.8h-2.6zM207.49 359.2h2.6V363.3h-2.6zM213.12 351.7h2.6V362.5h-2.6zM224.38 370.8h2.6V375.0h-2.6zM227.19 364.2h2.6V370.8h-2.6zM230.01 360.8h2.6V365.0h-2.6zM246.89 393.3h2.6V398.3h-2.6zM249.70 389.2h2.6V393.7h-2.6zM255.33 395.8h2.6V404.7h-2.6zM258.15 394.2h2.6V396.7h-2.6zM260.96 393.0h2.6V395.0h-2.6zM266.59 422.5h2.6V425.8h-2.6zM272.22 395.8h2.6V428.3h-2.6zM277.84 384.2h2.6V408.3h-2.6zM280.66 351.7h2.6V384.2h-2.6zM291.91 372.5h2.6V375.8h-2.6zM294.73 360.8h2.6V375.8h-2.6zM297.54 360.8h2.6V362.5h-2.6zM300.36 360.8h2.6V362.5h-2.6zM303.17 360.0h2.6V361.7h-2.6zM305.98 350.8h2.6V360.8h-2.6zM308.80 333.3h2.6V351.7h-2.6zM317.24 322.5h2.6V340.0h-2.6zM325.68 332.5h2.6V350.8h-2.6zM331.31 330.0h2.6V332.5h-2.6zM336.94 312.5h2.6V335.8h-2.6zM348.19 321.7h2.6V344.2h-2.6zM351.01 313.0h2.6V321.7h-2.6zM353.82 273.3h2.6V313.3h-2.6zM359.45 264.2h2.6V282.5h-2.6zM365.08 285.0h2.6V287.5h-2.6zM367.89 284.2h2.6V285.8h-2.6zM381.96 289.2h2.6V304.2h-2.6zM387.59 302.5h2.6V305.0h-2.6zM390.40 288.3h2.6V303.3h-2.6zM393.22 250.4h2.6V288.3h-2.6zM401.66 273.3h2.6V275.0h-2.6zM407.29 280.0h2.6V281.7h-2.6zM410.10 270.8h2.6V281.7h-2.6zM418.54 280.8h2.6V297.5h-2.6zM424.17 288.3h2.6V292.5h-2.6zM435.43 300.0h2.6V311.7h-2.6zM438.24 285.8h2.6V300.8h-2.6zM441.06 285.0h2.6V286.7h-2.6zM443.87 270.0h2.6V285.0h-2.6zM446.68 257.5h2.6V270.0h-2.6zM455.13 246.7h2.6V272.5h-2.6zM460.75 234.2h2.6V265.0h-2.6zM463.57 230.8h2.6V234.2h-2.6zM472.01 197.5h2.6V235.8h-2.6zM483.27 233.3h2.6V240.8h-2.6zM488.89 211.7h2.6V241.7h-2.6zM491.71 205.0h2.6V212.5h-2.6zM494.52 190.0h2.6V205.0h-2.6zM500.15 190.0h2.6V204.2h-2.6zM502.96 189.2h2.6V190.8h-2.6zM508.59 184.2h2.6V195.0h-2.6zM517.03 205.0h2.6V211.7h-2.6zM519.85 199.0h2.6V205.8h-2.6zM522.66 198.0h2.6V201.7h-2.6zM525.48 193.3h2.6V199.2h-2.6zM528.29 180.0h2.6V194.2h-2.6zM531.10 176.7h2.6V180.0h-2.6zM533.92 162.5h2.6V176.7h-2.6zM547.99 195.0h2.6V197.5h-2.6zM550.80 194.2h2.6V196.7h-2.6zM553.62 180.0h2.6V195.0h-2.6zM559.24 146.7h2.6V181.7h-2.6zM564.87 168.3h2.6V172.5h-2.6zM570.50 181.7h2.6V183.3h-2.6zM573.31 136.7h2.6V181.7h-2.6zM576.13 134.2h2.6V137.5h-2.6zM578.94 104.2h2.6V135.8h-2.6zM587.38 104.2h2.6V129.2h-2.6zM598.64 150.8h2.6V175.0h-2.6zM601.45 119.2h2.6V150.8h-2.6zM607.08 122.5h2.6V143.3h-2.6zM609.90 110.8h2.6V122.5h-2.6zM612.71 108.3h2.6V111.7h-2.6zM618.34 123.3h2.6V127.5h-2.6zM621.15 115.0h2.6V123.3h-2.6zM623.97 75.0h2.6V115.0h-2.6zM646.48 132.5h2.6V145.0h-2.6zM652.11 93.3h2.6V140.0h-2.6zM663.36 141.7h2.6V150.8h-2.6zM668.99 135.8h2.6V144.2h-2.6zM674.62 140.8h2.6V164.2h-2.6zM680.25 149.2h2.6V150.8h-2.6zM683.06 108.3h2.6V150.0h-2.6zM685.87 90.0h2.6V109.2h-2.6zM691.50 86.7h2.6V108.3h-2.6zM697.13 90.0h2.6V99.2h-2.6zM705.57 112.5h2.6V114.2h-2.6zM708.39 96.7h2.6V113.3h-2.6zM711.20 95.0h2.6V97.5h-2.6zM714.01 95.0h2.6V96.2h-2.6zM716.83 92.5h2.6V95.8h-2.6zM722.46 94.2h2.6V100.0h-2.6zM725.27 75.8h2.6V95.0h-2.6zM728.08 69.2h2.6V76.7h-2.6zM750.60 145.8h2.6V157.5h-2.6zM756.22 137.5h2.6V151.7h-2.6zM759.04 132.5h2.6V137.5h-2.6zM764.67 100.0h2.6V133.3h-2.6zM767.48 98.3h2.6V100.8h-2.6zM770.29 85.0h2.6V99.2h-2.6zM775.92 99.2h2.6V104.2h-2.6zM778.74 94.2h2.6V100.0h-2.6zM784.36 110.8h2.6V117.5h-2.6zM795.62 150.0h2.6V194.0h-2.6zM798.43 147.5h2.6V153.0h-2.6zM815.32 215.8h2.6V227.5h-2.6zM818.13 215.8h2.6V222.5h-2.6zM820.95 214.2h2.6V216.7h-2.6zM826.57 215.0h2.6V221.7h-2.6zM829.39 187.5h2.6V215.0h-2.6zM832.20 185.8h2.6V192.5h-2.6zM835.02 134.0h2.6V186.7h-2.6zM840.64 135.8h2.6V139.0h-2.6zM851.90 139.0h2.6V160.0h-2.6zM863.16 205.0h2.6V215.0h-2.6zM868.78 181.7h2.6V222.5h-2.6zM874.41 191.7h2.6V200.0h-2.6zM877.23 177.5h2.6V191.7h-2.6zM882.85 185.0h2.6V189.2h-2.6zM885.67 184.2h2.6V185.8h-2.6zM891.30 192.5h2.6V215.8h-2.6zM896.92 204.2h2.6V211.7h-2.6zM899.74 170.0h2.6V204.2h-2.6zM908.18 160.8h2.6V214.2h-2.6zM910.99 136.7h2.6V160.8h-2.6zM922.25 151.0h2.6V167.5h-2.6zM927.88 145.8h2.6V161.7h-2.6zM933.51 153.0h2.6V171.7h-2.6zM939.13 149.0h2.6V170.8h-2.6zM941.95 103.3h2.6V150.0h-2.6zM950.39 110.8h2.6V135.0h-2.6zM953.20 95.0h2.6V110.8h-2.6zM958.83 108.3h2.6V115.8h-2.6zM964.46 119.2h2.6V121.7h-2.6zM967.27 111.7h2.6V120.0h-2.6zM978.53 148.3h2.6V159.2h-2.6zM981.34 146.7h2.6V148.3h-2.6zM984.16 128.3h2.6V147.5h-2.6zM986.97 67.5h2.6V128.3h-2.6zM1003.86 104.2h2.6V125.0h-2.6zM1006.67 92.5h2.6V104.2h-2.6z" fill="#26a69a"/>
<path d="M7.70 215.3h2.6V223.7h-2.6zM13.33 212.0h2.6V258.3h-2.6zM16.14 258.3h2.6V261.7h-2.6zM18.96 260.8h2.6V274.2h-2.6zM24.58 244.2h2.6V255.0h-2.6zM30.21 246.7h2.6V267.5h-2.6zM44.28 204.2h2.6V229.2h-2.6zM47.10 228.3h2.6V267.5h-2.6zM55.54 249.2h2.6V260.8h-2.6zM61.17 258.3h2.6V263.3h-2.6zM66.79 249.2h2.6V270.8h-2.6zM72.42 268.3h2.6V285.8h-2.6zM80.86 258.3h2.6V271.7h-2.6zM83.68 264.2h2.6V292.0h-2.6zM86.49 292.0h2.6V336.7h-2.6zM89.31 336.7h2.6V343.3h-2.6zM92.12 342.5h2.6V367.5h-2.6zM94.93 366.7h2.6V369.2h-2.6zM97.75 368.3h2.6V381.3h-2.6zM117.45 353.3h2.6V361.7h-2.6zM123.07 355.3h2.6V364.2h-2.6zM125.89 363.3h2.6V370.0h-2.6zM128.70 364.2h2.6V372.5h-2.6zM131.52 372.5h2.6V380.8h-2.6zM139.96 371.2h2.6V383.3h-2.6zM148.40 367.5h2.6V406.7h-2.6zM162.47 380.8h2.6V385.8h-2.6zM168.10 362.5h2.6V376.7h-2.6zM170.91 375.0h2.6V376.7h-2.6zM179.35 301.3h2.6V308.3h-2.6zM182.17 306.7h2.6V310.8h-2.6zM184.98 310.8h2.6V340.0h-2.6zM187.80 338.0h2.6V365.8h-2.6zM196.24 348.3h2.6V371.7h-2.6zM204.68 353.3h2.6V360.0h-2.6zM210.31 355.0h2.6V363.3h-2.6zM215.94 351.7h2.6V362.5h-2.6zM218.75 361.7h2.6V373.3h-2.6zM221.56 372.5h2.6V375.0h-2.6zM232.82 360.0h2.6V363.3h-2.6zM235.63 361.7h2.6V372.5h-2.6zM238.45 371.7h2.6V390.0h-2.6zM241.26 389.2h2.6V395.0h-2.6zM244.08 393.3h2.6V397.5h-2.6zM252.52 389.2h2.6V405.0h-2.6zM263.77 393.0h2.6V425.8h-2.6zM269.40 422.5h2.6V429.2h-2.6zM275.03 395.8h2.6V408.3h-2.6zM283.47 351.7h2.6V355.0h-2.6zM286.29 354.0h2.6V372.5h-2.6zM289.10 371.7h2.6V377.5h-2.6zM311.61 334.2h2.6V338.3h-2.6zM314.43 337.5h2.6V340.0h-2.6zM320.05 322.5h2.6V340.8h-2.6zM322.87 340.0h2.6V350.8h-2.6zM328.50 331.7h2.6V333.3h-2.6zM334.12 330.0h2.6V335.8h-2.6zM339.75 312.5h2.6V335.0h-2.6zM342.57 334.2h2.6V341.7h-2.6zM345.38 340.0h2.6V344.2h-2.6zM356.64 273.3h2.6V282.5h-2.6zM362.26 264.2h2.6V287.5h-2.6zM370.71 284.2h2.6V294.2h-2.6zM373.52 293.3h2.6V300.8h-2.6zM376.33 299.2h2.6V300.8h-2.6zM379.15 300.0h2.6V305.0h-2.6zM384.78 289.2h2.6V305.0h-2.6zM396.03 250.4h2.6V269.7h-2.6zM398.85 269.2h2.6V275.0h-2.6zM404.47 273.3h2.6V280.8h-2.6zM412.92 270.8h2.6V285.8h-2.6zM415.73 285.8h2.6V297.5h-2.6zM421.36 280.8h2.6V292.5h-2.6zM426.99 289.2h2.6V295.0h-2.6zM429.80 294.2h2.6V295.8h-2.6zM432.61 295.0h2.6V310.8h-2.6zM449.50 257.5h2.6V272.5h-2.6zM452.31 266.7h2.6V272.5h-2.6zM457.94 246.7h2.6V265.0h-2.6zM466.38 231.7h2.6V233.3h-2.6zM469.20 232.5h2.6V235.0h-2.6zM474.82 197.5h2.6V221.7h-2.6zM477.64 220.8h2.6V227.5h-2.6zM480.45 226.7h2.6V240.8h-2.6zM486.08 233.3h2.6V241.7h-2.6zM497.34 190.0h2.6V204.2h-2.6zM505.78 189.2h2.6V195.0h-2.6zM511.41 183.3h2.6V198.3h-2.6zM514.22 198.0h2.6V211.7h-2.6zM536.73 162.5h2.6V188.3h-2.6zM539.55 186.7h2.6V188.3h-2.6zM542.36 186.7h2.6V190.8h-2.6zM545.17 190.0h2.6V197.5h-2.6zM556.43 180.0h2.6V181.7h-2.6zM562.06 146.7h2.6V172.5h-2.6zM567.69 167.5h2.6V182.5h-2.6zM581.76 104.2h2.6V120.8h-2.6zM584.57 120.8h2.6V129.2h-2.6zM590.20 104.2h2.6V132.5h-2.6zM593.01 132.5h2.6V158.3h-2.6zM595.83 157.5h2.6V175.0h-2.6zM604.27 119.2h2.6V148.3h-2.6zM615.52 108.3h2.6V127.5h-2.6zM626.78 75.0h2.6V77.5h-2.6zM629.59 76.7h2.6V100.8h-2.6zM632.41 100.0h2.6V101.7h-2.6zM635.22 100.8h2.6V106.7h-2.6zM638.04 105.8h2.6V111.7h-2.6zM640.85 111.7h2.6V125.8h-2.6zM643.66 125.0h2.6V145.8h-2.6zM649.29 132.5h2.6V140.0h-2.6zM654.92 93.3h2.6V103.3h-2.6zM657.73 102.5h2.6V110.8h-2.6zM660.55 110.8h2.6V151.7h-2.6zM666.18 140.8h2.6V142.5h-2.6zM671.80 135.8h2.6V164.2h-2.6zM677.43 140.8h2.6V150.8h-2.6zM688.69 90.0h2.6V107.5h-2.6zM694.32 86.7h2.6V99.2h-2.6zM699.94 90.0h2.6V105.8h-2.6zM702.76 105.8h2.6V114.2h-2.6zM719.64 92.5h2.6V100.0h-2.6zM730.90 69.2h2.6V93.3h-2.6zM733.71 93.3h2.6V99.2h-2.6zM736.53 98.3h2.6V100.0h-2.6zM739.34 99.2h2.6V126.7h-2.6zM742.15 125.8h2.6V136.7h-2.6zM744.97 135.8h2.6V137.5h-2.6zM747.78 137.5h2.6V157.5h-2.6zM753.41 145.8h2.6V151.7h-2.6zM761.85 132.5h2.6V134.2h-2.6zM773.11 85.0h2.6V104.2h-2.6zM781.55 94.2h2.6V117.5h-2.6zM787.18 110.8h2.6V115.0h-2.6zM789.99 114.0h2.6V180.8h-2.6zM792.81 180.8h2.6V194.0h-2.6zM801.25 147.5h2.6V156.0h-2.6zM804.06 156.0h2.6V172.5h-2.6zM806.88 172.5h2.6V190.0h-2.6zM809.69 189.2h2.6V225.8h-2.6zM812.50 225.0h2.6V227.5h-2.6zM823.76 214.2h2.6V221.7h-2.6zM837.83 134.5h2.6V136.7h-2.6zM843.46 136.7h2.6V140.8h-2.6zM846.27 140.0h2.6V154.0h-2.6zM849.09 153.5h2.6V160.0h-2.6zM854.71 139.0h2.6V158.3h-2.6zM857.53 157.5h2.6V188.0h-2.6zM860.34 188.3h2.6V215.0h-2.6zM865.97 205.0h2.6V222.5h-2.6zM871.60 181.7h2.6V198.3h-2.6zM880.04 177.5h2.6V190.0h-2.6zM888.48 185.0h2.6V215.8h-2.6zM894.11 192.5h2.6V211.7h-2.6zM902.55 170.0h2.6V209.2h-2.6zM905.37 209.2h2.6V214.2h-2.6zM913.81 136.7h2.6V155.8h-2.6zM916.62 145.0h2.6V155.8h-2.6zM919.44 145.0h2.6V167.5h-2.6zM925.06 150.8h2.6V161.7h-2.6zM930.69 145.8h2.6V171.7h-2.6zM936.32 153.3h2.6V171.7h-2.6zM944.76 103.3h2.6V119.2h-2.6zM947.58 119.2h2.6V135.0h-2.6zM956.02 95.0h2.6V115.0h-2.6zM961.65 108.3h2.6V120.8h-2.6zM970.09 111.7h2.6V115.0h-2.6zM972.90 114.2h2.6V135.8h-2.6zM975.72 135.0h2.6V160.0h-2.6zM989.79 67.5h2.6V101.7h-2.6zM992.60 101.7h2.6V103.3h-2.6zM995.41 102.5h2.6V104.2h-2.6zM998.23 102.5h2.6V122.5h-2.6zM1001.04 120.0h2.6V125.0h-2.6z" fill="#ef5350"/>
</g>

<!-- RSI -->
<path clip-path="url(#cp)" d="M7.3 541.9L9.0 546.9L11.8 536.9L14.6 569.8L17.4 572.8L20.3 579.8L23.1 555.9L25.9 558.9L28.7 555.9L31.5 568.9L34.3 558.9L37.1 542.9L40.0 540.9L42.8 522.3L45.6 539.9L48.4 564.9L51.2 562.9L54.0 551.5L56.8 557.9L59.7 556.9L62.5 559.9L65.3 549.5L68.1 562.9L70.9 561.9L73.7 572.8L76.5 568.9L79.3 550.9L82.2 558.9L85.0 575.8L87.8 595.8L90.6 598.8L93.4 608.8L96.2 609.8L99.0 613.8L101.9 610.2L104.7 606.8L107.5 605.8L110.3 599.8L113.1 595.8L115.9 580.8L118.7 586.8L121.6 578.8L124.4 584.8L127.2 589.8L130.0 592.8L132.8 597.8L135.6 590.8L138.4 583.8L141.3 592.8L144.1 582.8L146.9 572.2L149.7 601.4L152.5 600.8L155.3 597.8L158.1 592.8L161.0 564.9L163.8 568.9L166.6 541.9L169.4 554.9L172.2 555.9L175.0 497.0L177.8 496.0L180.7 502.0L183.5 506.0L186.3 525.9L189.1 554.9L191.9 549.9L194.7 537.9L197.5 557.9L200.4 550.9L203.2 544.9L206.0 551.9L208.8 547.9L211.6 549.9L214.4 540.9L217.2 550.9L220.1 559.9L222.9 560.9L225.7 557.9L228.5 548.9L231.3 545.9L234.1 546.3L236.9 560.9L239.7 575.2L242.6 579.8L245.4 583.4L248.2 575.8L251.0 569.5L253.8 584.4L256.6 572.4L259.4 571.4L262.3 568.3L265.1 597.4L267.9 592.8L270.7 597.4L273.5 552.9L276.3 563.9L279.1 538.9L282.0 513.9L284.8 515.9L287.6 534.9L290.4 539.5L293.2 536.9L296.0 526.3L298.8 525.3L301.7 524.5L304.5 523.9L307.3 515.9L310.1 500.4L312.9 506.0L315.7 507.5L318.5 494.4L321.4 520.9L324.2 531.5L327.0 515.9L329.8 514.9L332.6 512.9L335.4 519.9L338.2 500.4L341.1 525.9L343.9 533.9L346.7 536.9L349.5 515.9L352.3 507.9L355.1 484.0L357.9 493.0L360.8 483.6L363.6 508.9L366.4 507.9L369.2 507.9L372.0 517.9L374.8 524.9L377.6 525.9L380.4 529.9L383.3 516.9L386.1 532.9L388.9 530.9L391.7 513.9L394.5 491.0L397.3 511.9L400.1 517.5L403.0 516.9L405.8 524.9L408.6 525.5L411.4 516.9L414.2 530.9L417.0 546.9L419.8 530.3L422.7 542.9L425.5 543.9L428.3 545.9L431.1 546.9L433.9 563.3L436.7 547.9L439.5 534.9L442.4 532.9L445.2 518.9L448.0 506.4L450.8 514.9L453.6 524.9L456.4 503.6L459.2 524.9L462.1 504.0L464.9 501.0L467.7 502.4L470.5 505.6L473.3 481.6L476.1 507.9L478.9 516.9L481.8 527.9L484.6 522.3L487.4 530.9L490.2 509.9L493.0 505.0L495.8 496.0L498.6 510.9L501.4 502.0L504.3 501.6L507.1 507.0L509.9 501.0L512.7 518.9L515.5 530.3L518.3 526.9L521.1 524.5L524.0 520.3L526.8 514.9L529.6 505.6L532.4 501.0L535.2 491.0L538.0 523.9L540.8 522.9L543.7 527.5L546.5 534.9L549.3 534.3L552.1 532.9L554.9 516.9L557.7 517.9L560.5 488.4L563.4 520.3L566.2 518.9L569.0 534.3L571.8 533.5L574.6 498.4L577.4 497.6L580.2 480.0L583.1 499.6L585.9 507.9L588.7 493.6L591.5 520.9L594.3 537.9L597.1 551.5L599.9 533.9L602.8 517.9L605.6 533.9L608.4 522.9L611.2 516.9L614.0 514.9L616.8 529.9L619.6 526.9L622.5 517.9L625.3 501.0L628.1 503.0L630.9 522.3L633.7 522.9L636.5 526.9L639.3 532.9L642.1 541.9L645.0 557.9L647.8 547.9L650.6 551.9L653.4 520.3L656.2 526.9L659.0 533.9L661.8 560.9L664.7 555.9L667.5 555.9L670.3 550.3L673.1 568.3L675.9 550.9L678.7 556.5L681.5 555.9L684.4 527.9L687.2 515.9L690.0 528.9L692.8 517.9L695.6 524.9L698.4 522.3L701.2 531.9L704.1 539.5L706.9 538.9L709.7 527.9L712.5 526.3L715.3 525.9L718.1 523.9L720.9 531.9L723.8 527.9L726.6 511.9L729.4 507.0L732.2 533.9L735.0 539.5L737.8 540.3L740.6 564.9L743.5 572.8L746.3 573.4L749.1 587.4L751.9 574.2L754.7 576.8L757.5 563.9L760.3 557.5L763.2 556.9L766.0 524.9L768.8 523.9L771.6 511.9L774.4 532.5L777.2 528.9L780.0 524.9L782.9 546.9L785.7 541.9L788.5 544.9L791.3 593.8L794.1 600.8L796.9 562.9L799.7 559.5L802.5 563.9L805.4 571.8L808.2 583.8L811.0 600.8L813.8 601.4L816.6 597.8L819.4 591.4L822.2 588.8L825.1 592.8L827.9 584.8L830.7 561.9L833.5 554.9L836.3 518.3L839.1 520.9L841.9 519.9L844.8 521.9L847.6 534.9L850.4 540.9L853.2 525.9L856.0 543.9L858.8 563.9L861.6 580.2L864.5 572.8L867.3 581.4L870.1 550.3L872.9 559.9L875.7 554.3L878.5 544.9L881.3 552.9L884.2 551.9L887.0 549.9L889.8 569.8L892.6 551.9L895.4 563.9L898.2 556.9L901.0 534.9L903.9 558.9L906.7 561.9L909.5 527.5L912.3 517.9L915.1 528.9L917.9 523.9L920.7 536.9L923.6 529.5L926.4 534.9L929.2 527.5L932.0 543.9L934.8 532.9L937.6 543.9L940.4 529.5L943.2 509.9L946.1 520.9L948.9 529.5L951.7 518.9L954.5 511.9L957.3 523.9L960.1 522.3L962.9 529.5L965.8 528.3L968.6 524.5L971.4 526.9L974.2 541.9L977.0 556.9L979.8 549.9L982.6 549.5L985.5 533.9L988.3 502.0L991.1 525.9L993.9 525.9L996.7 526.9L999.5 539.9L1002.3 541.9L1005.2 528.9L1008.0 521.5" stroke="#7e57c2" stroke-width="2.9" fill="none" stroke-linejoin="round" stroke-linecap="round"/>
<path clip-path="url(#cp)" d="M7.0 565.9C7.8 565.4 10.2 563.4 12.0 562.9C13.8 562.4 16.0 563.2 18.0 562.9C20.0 562.5 22.0 561.6 24.0 560.9C26.0 560.1 28.0 559.1 30.0 558.3C31.9 557.4 33.9 556.6 35.9 555.9C37.9 555.1 39.9 554.0 41.9 553.9C43.9 553.7 45.9 554.8 47.9 554.9C49.9 554.9 51.9 554.6 53.9 554.3C55.9 553.9 57.9 553.2 59.9 552.9C61.9 552.5 63.9 552.3 65.9 552.3C67.9 552.3 69.9 552.3 71.9 552.9C73.9 553.5 75.9 554.7 77.9 555.9C79.9 557.0 81.9 558.2 83.9 559.9C85.9 561.5 87.9 563.5 89.9 565.9C91.9 568.2 93.8 571.2 95.8 573.8C97.8 576.5 99.8 579.3 101.8 581.8C103.8 584.3 105.8 586.8 107.8 588.8C109.8 590.8 111.8 592.4 113.8 593.8C115.8 595.2 117.8 596.7 119.8 597.4C121.8 598.1 123.8 598.3 125.8 598.2C127.8 598.1 129.8 597.6 131.8 596.8C133.8 596.0 135.8 594.6 137.8 593.4C139.8 592.2 141.9 590.7 143.8 589.8C145.6 588.9 147.1 587.9 148.8 587.8C150.4 587.8 152.1 589.1 153.8 589.4C155.4 589.8 157.1 590.1 158.7 589.8C160.4 589.6 161.9 589.3 163.7 587.8C165.6 586.3 167.7 583.8 169.7 580.8C171.7 577.8 173.7 573.8 175.7 569.8C177.7 565.9 179.7 560.7 181.7 556.9C183.7 553.0 185.7 549.9 187.7 546.9C189.7 543.9 191.7 540.8 193.7 538.9C195.7 537.0 197.7 536.2 199.7 535.5C201.7 534.8 203.7 535.1 205.7 534.9C207.7 534.7 209.8 533.5 211.7 534.3C213.5 535.1 215.0 537.8 216.7 539.9C218.3 542.0 220.3 545.0 221.6 546.9C223.0 548.8 223.4 550.8 225.0 551.5C226.6 552.1 229.0 550.6 231.0 550.9C233.0 551.1 235.0 551.9 237.0 552.9C239.0 553.9 241.0 555.5 243.0 556.9C245.0 558.2 247.0 559.5 249.0 560.9C251.0 562.2 253.0 563.9 255.0 564.9C256.9 565.9 258.9 565.4 260.9 566.9C262.9 568.4 264.9 572.0 266.9 573.8C268.9 575.7 271.3 577.3 272.9 577.8C274.6 578.3 275.6 577.8 276.9 576.8C278.2 575.8 279.6 573.8 280.9 571.8C282.2 569.8 283.2 567.0 284.9 564.9C286.6 562.7 288.9 560.9 290.9 558.9C292.9 556.9 295.2 554.7 296.9 552.9C298.5 551.0 299.5 550.0 300.9 547.9C302.2 545.7 303.2 543.1 304.9 539.9C306.5 536.7 308.9 532.2 310.9 528.9C312.9 525.7 314.9 521.9 316.9 520.3C318.8 518.8 320.8 520.1 322.8 519.5C324.8 519.0 326.8 517.8 328.8 516.9C330.8 516.1 333.0 515.1 334.8 514.5C336.7 514.0 338.2 513.5 339.8 513.5C341.5 513.6 343.1 514.4 344.8 514.9C346.5 515.5 348.1 516.8 349.8 516.9C351.5 517.1 353.0 516.7 354.8 515.9C356.6 515.2 358.8 513.5 360.8 512.5C362.8 511.6 364.8 510.6 366.8 510.3C368.8 510.1 370.8 510.4 372.8 510.9C374.8 511.5 376.8 513.4 378.8 513.5C380.8 513.6 382.7 511.6 384.7 511.5C386.7 511.4 388.7 512.4 390.7 512.9C392.7 513.5 394.7 514.0 396.7 514.9C398.7 515.8 400.7 517.4 402.7 518.3C404.7 519.2 406.7 519.7 408.7 520.3C410.7 520.9 412.7 521.3 414.7 521.9C416.7 522.5 418.7 523.1 420.7 523.9C422.7 524.8 424.7 525.4 426.7 526.9C428.7 528.4 430.8 531.1 432.7 532.9C434.5 534.7 436.0 536.6 437.7 537.5C439.3 538.4 440.8 538.4 442.7 538.3C444.5 538.2 446.4 537.8 448.6 536.9C450.9 536.0 453.8 534.4 456.0 532.9C458.2 531.4 460.0 529.7 462.0 527.9C464.0 526.1 466.0 524.4 468.0 521.9C470.0 519.4 472.0 514.9 474.0 512.9C476.0 511.0 478.0 510.4 480.0 510.3C481.9 510.2 483.9 512.4 485.9 512.3C487.9 512.3 489.9 510.6 491.9 509.9C493.9 509.3 495.9 508.7 497.9 508.3C499.9 508.0 501.9 507.8 503.9 507.9C505.9 508.0 507.9 508.1 509.9 508.9C511.9 509.8 513.9 512.2 515.9 512.9C517.9 513.7 519.9 513.7 521.9 513.5C523.9 513.4 525.9 512.4 527.9 511.9C529.9 511.5 531.9 510.8 533.9 510.9C535.9 511.1 537.9 512.1 539.9 512.9C541.9 513.8 543.8 514.8 545.8 515.9C547.8 517.0 549.8 519.2 551.8 519.5C553.8 519.9 555.8 518.4 557.8 517.9C559.8 517.4 561.8 516.1 563.8 516.5C565.8 516.9 568.1 519.5 569.8 520.3C571.5 521.2 572.1 522.1 573.8 521.5C575.5 521.0 577.8 518.4 579.8 516.9C581.8 515.5 584.1 514.3 585.8 512.9C587.4 511.6 588.1 508.9 589.8 508.9C591.4 508.9 593.8 511.6 595.8 512.9C597.8 514.3 599.8 516.3 601.8 516.9C603.8 517.6 605.8 517.1 607.7 516.9C609.7 516.8 611.7 514.9 613.7 515.9C615.7 516.9 617.7 521.6 619.7 522.9C621.7 524.3 623.7 523.8 625.7 523.9C627.7 524.1 629.7 524.4 631.7 523.9C633.7 523.4 635.7 520.9 637.7 520.9C639.7 520.9 641.7 522.6 643.7 523.9C645.7 525.3 647.7 528.0 649.7 528.9C651.7 529.8 653.7 528.8 655.7 529.5C657.7 530.2 659.7 531.2 661.7 532.9C663.7 534.6 665.7 537.7 667.7 539.9C669.6 542.1 671.6 544.2 673.6 545.9C675.7 547.6 678.1 549.9 680.0 549.9C681.9 549.9 683.2 547.0 685.0 545.9C686.8 544.8 689.0 544.2 691.0 543.5C693.0 542.8 695.0 542.7 697.0 541.9C699.0 541.1 701.0 540.1 703.0 538.9C705.0 537.7 706.9 536.3 708.9 534.9C710.9 533.5 712.9 531.5 714.9 530.3C716.9 529.1 718.9 528.2 720.9 527.5C722.9 526.9 724.9 526.3 726.9 526.3C728.9 526.3 730.9 526.8 732.9 527.5C734.9 528.3 736.9 529.5 738.9 530.9C740.9 532.3 742.9 533.9 744.9 535.9C746.9 537.9 748.9 540.7 750.9 542.9C752.9 545.1 754.9 547.1 756.9 548.9C758.9 550.7 761.0 552.7 762.9 553.9C764.7 555.0 766.2 555.7 767.9 555.9C769.5 556.0 771.2 555.3 772.8 554.9C774.5 554.5 776.2 554.5 777.8 553.5C779.5 552.5 781.2 550.3 782.8 548.9C784.5 547.5 786.2 545.3 787.8 544.9C789.5 544.5 791.0 546.0 792.8 546.3C794.6 546.6 796.8 546.0 798.8 546.9C800.8 547.8 802.8 549.5 804.8 551.9C806.8 554.2 808.8 557.5 810.8 560.9C812.8 564.2 814.8 568.5 816.8 571.8C818.8 575.2 820.9 578.6 822.8 580.8C824.6 583.1 826.1 585.6 827.8 585.4C829.4 585.3 830.9 581.9 832.7 579.8C834.6 577.7 836.7 575.3 838.7 572.8C840.7 570.3 842.7 567.7 844.7 564.9C846.7 562.0 848.9 558.5 850.7 555.9C852.5 553.2 854.0 550.4 855.7 548.9C857.4 547.4 858.9 547.5 860.7 546.9C862.5 546.3 864.9 545.8 866.7 545.5C868.5 545.2 870.0 544.2 871.7 544.9C873.3 545.6 874.8 548.0 876.7 549.5C878.5 551.0 880.7 552.5 882.7 553.9C884.7 555.3 886.7 556.8 888.7 557.9C890.7 558.9 892.8 560.4 894.6 560.3C896.5 560.1 898.1 557.9 900.0 556.9C901.9 555.8 904.0 555.0 906.0 553.9C908.0 552.7 910.0 551.2 912.0 549.9C914.0 548.6 916.0 547.1 918.0 545.9C920.0 544.7 922.0 544.0 924.0 542.9C926.0 541.8 928.0 540.5 930.0 539.5C931.9 538.5 933.9 538.0 935.9 536.9C937.9 535.8 940.1 534.1 941.9 532.9C943.8 531.7 945.3 530.2 946.9 529.5C948.6 528.8 950.1 529.2 951.9 528.9C953.7 528.6 955.9 528.0 957.9 527.5C959.9 527.0 961.9 526.4 963.9 525.9C965.9 525.5 967.9 524.8 969.9 524.9C971.9 525.1 974.2 526.2 975.9 526.9C977.5 527.7 978.5 528.7 979.9 529.5C981.2 530.3 982.5 531.8 983.9 531.9C985.2 532.0 986.5 530.5 987.9 530.3C989.2 530.1 990.5 530.6 991.9 530.9C993.2 531.2 994.5 531.5 995.8 531.9C997.2 532.3 998.5 533.1 999.8 533.5C1001.2 533.9 1002.6 534.2 1003.8 534.3C1005.1 534.4 1006.8 534.0 1007.4 533.9" stroke="#fdd835" stroke-width="0.9" fill="none" stroke-linejoin="round"/>

<!-- header -->
<text x="6.1" y="12.1" font-size="11.3" textLength="51.1" lengthAdjust="spacingAndGlyphs" fill="#131722">ranadagger</text>
<text x="60.8" y="12.1" font-size="11.3" textLength="35.5" lengthAdjust="spacingAndGlyphs" fill="#131722">created</text>
<text x="99.3" y="12.1" font-size="11.3" textLength="20.6" lengthAdjust="spacingAndGlyphs" fill="#131722">with</text>
<text x="122.6" y="12.1" font-size="11.3" textLength="78.4" lengthAdjust="spacingAndGlyphs" fill="#131722">TradingView.com,</text>
<text x="206.1" y="12.1" font-size="11.3" textLength="18.2" lengthAdjust="spacingAndGlyphs" fill="#131722">Dec</text>
<text x="228.2" y="12.1" font-size="11.3" textLength="13.4" lengthAdjust="spacingAndGlyphs" fill="#131722">26,</text>
<text x="244.6" y="12.1" font-size="11.3" textLength="21.1" lengthAdjust="spacingAndGlyphs" fill="#131722">2025</text>
<text x="269.9" y="12.1" font-size="11.3" textLength="24.6" lengthAdjust="spacingAndGlyphs" fill="#131722">15:04</text>
<text x="297.5" y="12.1" font-size="11.3" textLength="18.6" lengthAdjust="spacingAndGlyphs" fill="#131722">UTC</text>
<!-- legends -->
<text x="13.1" y="35.0" font-size="11.3" textLength="176.3" lengthAdjust="spacingAndGlyphs" fill="#131722">Bitcoin Cash / TetherUS · 1D · Binance</text>
<text x="195.8" y="35.0" font-size="11.3" textLength="7.0" lengthAdjust="spacingAndGlyphs" fill="#131722">O</text>
<text x="202.6" y="35.0" font-size="11.3" textLength="25.9" lengthAdjust="spacingAndGlyphs" fill="#26a69a">589.7</text>
<text x="234.6" y="35.0" font-size="11.3" textLength="6.2" lengthAdjust="spacingAndGlyphs" fill="#131722">H</text>
<text x="240.6" y="35.0" font-size="11.3" textLength="25.7" lengthAdjust="spacingAndGlyphs" fill="#26a69a">614.5</text>
<text x="273.0" y="35.0" font-size="11.3" textLength="4.1" lengthAdjust="spacingAndGlyphs" fill="#131722">L</text>
<text x="277.1" y="35.0" font-size="11.3" textLength="26.1" lengthAdjust="spacingAndGlyphs" fill="#26a69a">586.8</text>
<text x="309.0" y="35.0" font-size="11.3" textLength="6.3" lengthAdjust="spacingAndGlyphs" fill="#131722">C</text>
<text x="314.9" y="35.0" font-size="11.3" textLength="25.6" lengthAdjust="spacingAndGlyphs" fill="#26a69a">601.3</text>
<text x="346.5" y="35.0" font-size="11.3" textLength="67.2" lengthAdjust="spacingAndGlyphs" fill="#26a69a">+11.5 (+1.95%)</text>
<text x="13.1" y="49.7" font-size="11.3" textLength="70.2" lengthAdjust="spacingAndGlyphs" fill="#131722">EMA (20, close)</text>
<text x="89.1" y="49.7" font-size="11.3" textLength="26.3" lengthAdjust="spacingAndGlyphs" fill="#2962ff">575.6</text>
<text x="13.1" y="64.1" font-size="11.3" textLength="69.8" lengthAdjust="spacingAndGlyphs" fill="#131722">SMA (50, close)</text>
<text x="89.1" y="64.1" font-size="11.3" textLength="25.7" lengthAdjust="spacingAndGlyphs" fill="#f23645">546.5</text>
<text x="13.1" y="488.4" font-size="11.3" textLength="65.3" lengthAdjust="spacingAndGlyphs" fill="#131722">RSI (14, close)</text>
<text x="85.0" y="488.4" font-size="11.3" textLength="24.9" lengthAdjust="spacingAndGlyphs" fill="#7e57c2">57.46</text>
<text x="116.3" y="488.4" font-size="11.3" textLength="25.6" lengthAdjust="spacingAndGlyphs" fill="#fdd835">53.42</text>
<!-- price axis -->
<text x="1092.4" y="57.2" font-size="11.3" textLength="26.2" lengthAdjust="spacingAndGlyphs" fill="#131722">640.0</text>
<text x="1092.4" y="178.7" font-size="11.3" textLength="26.2" lengthAdjust="spacingAndGlyphs" fill="#131722">520.0</text>
<text x="1092.4" y="219.2" font-size="11.3" textLength="26.2" lengthAdjust="spacingAndGlyphs" fill="#131722">480.0</text>
<text x="1092.4" y="300.2" font-size="11.3" textLength="26.2" lengthAdjust="spacingAndGlyphs" fill="#131722">400.0</text>
<text x="1092.4" y="340.7" font-size="11.3" textLength="26.2" lengthAdjust="spacingAndGlyphs" fill="#131722">360.0</text>
<text x="1092.4" y="381.2" font-size="11.3" textLength="26.2" lengthAdjust="spacingAndGlyphs" fill="#131722">320.0</text>
<text x="1092.4" y="421.7" font-size="11.3" textLength="26.2" lengthAdjust="spacingAndGlyphs" fill="#131722">280.0</text>
<text x="1092.4" y="462.2" font-size="11.3" textLength="26.2" lengthAdjust="spacingAndGlyphs" fill="#131722">240.0</text>
<text x="1092.5" y="487.8" font-size="11.3" textLength="26.1" lengthAdjust="spacingAndGlyphs" fill="#131722">70.00</text>
<text x="1092.5" y="517.8" font-size="11.3" textLength="26.1" lengthAdjust="spacingAndGlyphs" fill="#131722">60.00</text>
<text x="1092.5" y="547.8" font-size="11.3" textLength="26.1" lengthAdjust="spacingAndGlyphs" fill="#131722">50.00</text>
<text x="1092.5" y="577.8" font-size="11.3" textLength="26.1" lengthAdjust="spacingAndGlyphs" fill="#131722">40.00</text>
<text x="1092.5" y="607.8" font-size="11.3" textLength="26.1" lengthAdjust="spacingAndGlyphs" fill="#131722">30.00</text>
<!-- USDT -->
<rect x="1088.5" y="22.5" width="49" height="22" rx="4" fill="#fff" stroke="#e0e3eb"/>
<text x="1096.3" y="37.7" font-size="11.3" textLength="23.7" lengthAdjust="spacingAndGlyphs" fill="#131722">USDT</text>
<!-- labels -->
<path d="M1086 54.9H1120.2Q1122.7 54.9 1122.7 57.4V66.9Q1122.7 69.4 1120.2 69.4H1086z" fill="#0000ff"/>
<text x="1092.4" y="65.7" font-size="11.3" textLength="26.2" lengthAdjust="spacingAndGlyphs" fill="#ffffff" stroke="#fff" stroke-width="0.3">631.0</text>
<path d="M1086 245.3H1120.2Q1122.7 245.3 1122.7 247.8V257.3Q1122.7 259.8 1120.2 259.8H1086z" fill="#0000ff"/>
<text x="1092.4" y="256.1" font-size="11.3" textLength="26.2" lengthAdjust="spacingAndGlyphs" fill="#ffffff" stroke="#fff" stroke-width="0.3">443.0</text>
<path d="M1038.1 84.9H1085V99.2H1038.1Q1035.6 99.2 1035.6 96.7V87.4Q1035.6 84.9 1038.1 84.9z" fill="#26a69a"/>
<text x="1039.1" y="95.7" font-size="11.3" textLength="43.0" lengthAdjust="spacingAndGlyphs" fill="#ffffff" stroke="#fff" stroke-width="0.3">BCHUSDT</text>
<path d="M1086 84.9H1134.5Q1137 84.9 1137 87.4V120.3Q1137 122.8 1134.5 122.8H1086z" fill="#26a69a"/>
<text x="1092.4" y="95.7" font-size="11.3" textLength="25.9" lengthAdjust="spacingAndGlyphs" fill="#ffffff" stroke="#fff" stroke-width="0.3">601.3</text>
<text x="1092.8" y="107.8" font-size="11.3" textLength="37.0" lengthAdjust="spacingAndGlyphs" fill="#ffffff" stroke="#fff" stroke-width="0.3">+26.91%</text>
<text x="1092.4" y="119.9" font-size="11.3" textLength="39.5" lengthAdjust="spacingAndGlyphs" fill="#ffffff" fill-opacity="0.7" stroke="#fff" stroke-width="0.3" stroke-opacity="0.7">08:55:01</text>
<path d="M1061.3 123.2H1085V137.7H1061.3Q1058.8 137.7 1058.8 135.2V125.7Q1058.8 123.2 1061.3 123.2z" fill="#2962ff"/>
<text x="1062.5" y="134.0" font-size="11.3" textLength="19.8" lengthAdjust="spacingAndGlyphs" fill="#ffffff" stroke="#fff" stroke-width="0.3">EMA</text>
<path d="M1086 123.2H1120.2Q1122.7 123.2 1122.7 125.7V135.2Q1122.7 137.7 1120.2 137.7H1086z" fill="#2962ff"/>
<text x="1092.4" y="134.0" font-size="11.3" textLength="26.2" lengthAdjust="spacingAndGlyphs" fill="#ffffff" stroke="#fff" stroke-width="0.3">575.6</text>
<path d="M1045.2 140.3H1085V154.8H1045.2Q1042.7 154.8 1042.7 152.3V142.8Q1042.7 140.3 1045.2 140.3z" fill="#f23645"/>
<text x="1046.5" y="151.2" font-size="11.3" textLength="35.8" lengthAdjust="spacingAndGlyphs" fill="#ffffff" stroke="#fff" stroke-width="0.3">SMA:MA</text>
<path d="M1086 140.3H1120.2Q1122.7 140.3 1122.7 142.8V152.3Q1122.7 154.8 1120.2 154.8H1086z" fill="#f23645"/>
<text x="1092.4" y="151.2" font-size="11.3" textLength="26.2" lengthAdjust="spacingAndGlyphs" fill="#ffffff" stroke="#fff" stroke-width="0.3">546.5</text>
<path d="M1066.5 514.4H1085V528.8H1066.5Q1064 528.8 1064 526.3V516.9Q1064 514.4 1066.5 514.4z" fill="#7e57c2"/>
<text x="1067.7" y="525.2" font-size="11.3" textLength="14.1" lengthAdjust="spacingAndGlyphs" fill="#ffffff" stroke="#fff" stroke-width="0.3">RSI</text>
<path d="M1086 514.4H1120.4Q1122.9 514.4 1122.9 516.9V526.3Q1122.9 528.8 1120.4 528.8H1086z" fill="#7e57c2"/>
<text x="1092.5" y="525.2" font-size="11.3" textLength="26.1" lengthAdjust="spacingAndGlyphs" fill="#ffffff" stroke="#fff" stroke-width="0.3">57.46</text>
<path d="M1020.3 529.1H1085V543.5H1020.3Q1017.8 543.5 1017.8 541.0V531.6Q1017.8 529.1 1020.3 529.1z" fill="#fdd835"/>
<text x="1021.1" y="539.5" font-size="11.3" textLength="61.3" lengthAdjust="spacingAndGlyphs" fill="#131722">RSI-based MA</text>
<path d="M1086 529.1H1120.4Q1122.9 529.1 1122.9 531.6V541.0Q1122.9 543.5 1120.4 543.5H1086z" fill="#fdd835"/>
<text x="1092.5" y="539.5" font-size="11.3" textLength="25.5" lengthAdjust="spacingAndGlyphs" fill="#131722">53.42</text>
<!-- time axis -->
<text x="75.9" y="639.0" font-size="11.3" textLength="17.7" lengthAdjust="spacingAndGlyphs" fill="#131722">Feb</text>
<text x="154.4" y="639.0" font-size="11.3" textLength="18.0" lengthAdjust="spacingAndGlyphs" fill="#131722">Mar</text>
<text x="242.2" y="639.0" font-size="11.3" textLength="17.1" lengthAdjust="spacingAndGlyphs" fill="#131722">Apr</text>
<text x="326.3" y="639.0" font-size="11.3" textLength="18.4" lengthAdjust="spacingAndGlyphs" fill="#131722">May</text>
<text x="414.2" y="639.0" font-size="11.3" textLength="16.0" lengthAdjust="spacingAndGlyphs" fill="#131722">Jun</text>
<text x="499.4" y="639.0" font-size="11.3" textLength="13.5" lengthAdjust="spacingAndGlyphs" fill="#131722">Jul</text>
<text x="585.2" y="639.0" font-size="11.3" textLength="17.3" lengthAdjust="spacingAndGlyphs" fill="#131722">Aug</text>
<text x="672.3" y="639.0" font-size="11.3" textLength="17.1" lengthAdjust="spacingAndGlyphs" fill="#131722">Sep</text>
<text x="756.7" y="639.0" font-size="11.3" textLength="16.7" lengthAdjust="spacingAndGlyphs" fill="#131722">Oct</text>
<text x="843.2" y="639.0" font-size="11.3" textLength="18.5" lengthAdjust="spacingAndGlyphs" fill="#131722">Nov</text>
<text x="928.2" y="639.0" font-size="11.3" textLength="17.2" lengthAdjust="spacingAndGlyphs" fill="#131722">Dec</text>
<text x="1012.0" y="639.0" font-size="11.3" textLength="24.0" lengthAdjust="spacingAndGlyphs" fill="#131722" font-weight="bold">2026</text>
<!-- lightning icon -->
<circle cx="1007.95" cy="460.9" r="8.3" fill="none" stroke="#9c27b0" stroke-width="1.4"/>
<path d="M1009.8 456.3L1004.3 461.5H1007.3L1005.1 465.8L1011.2 460.9H1008.2z" fill="#9c27b0" stroke="#9c27b0" stroke-width="0.5" stroke-linejoin="round"/>
<circle cx="1013.8" cy="455.15" r="3.4" fill="#fff"/>
<circle cx="1013.8" cy="455.15" r="2.15" fill="#f23645"/>
<!-- logo -->
<g fill="#131313">
<path d="M8.2 666.5H18.4V678.8H13.15V671.6H8.2z"/>
<circle cx="22.55" cy="669.1" r="2.5"/>
<path d="M27.8 666.5H33.3L28.85 678.8H23.1z"/>
</g>
<text x="39.6" y="678.8" fill="#131313" font-size="17.9" font-weight="bold" textLength="103.8" lengthAdjust="spacingAndGlyphs">TradingView</text>
</svg>
</body>
</html>
